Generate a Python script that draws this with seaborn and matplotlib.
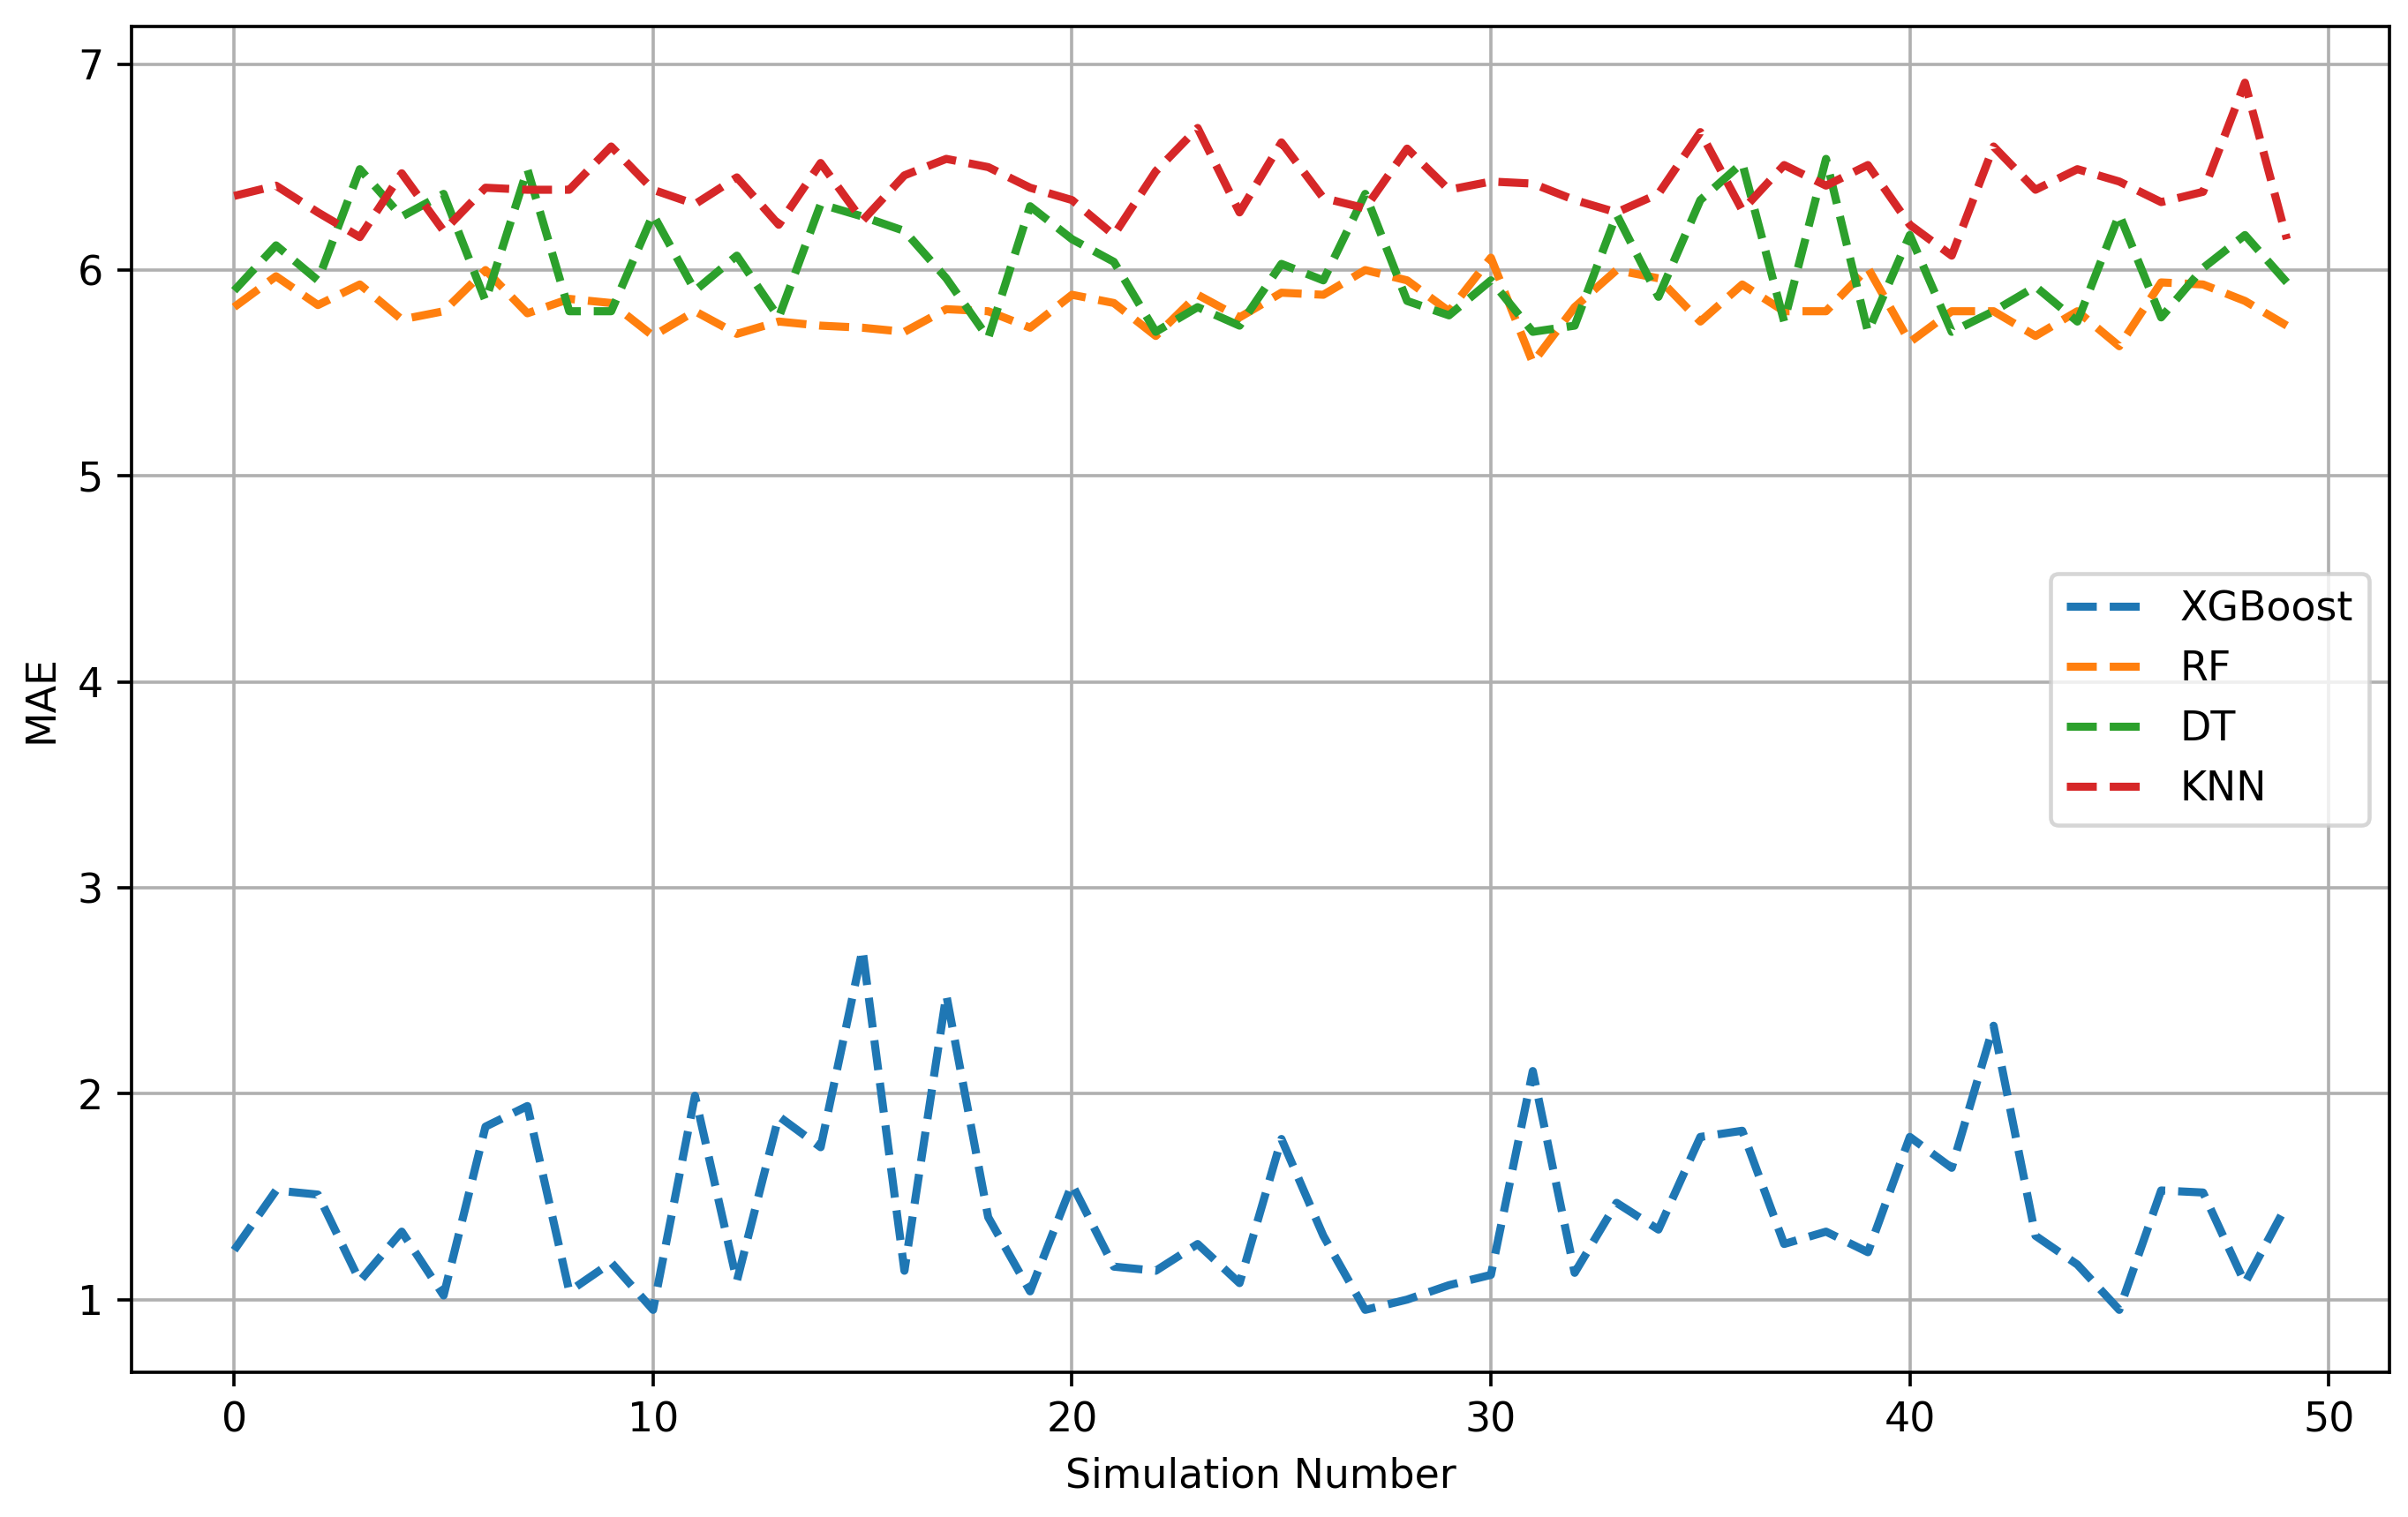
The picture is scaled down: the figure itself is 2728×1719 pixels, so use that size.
import numpy as np
import pandas as pd
import matplotlib
matplotlib.use("Agg")
import matplotlib.pyplot as plt
import seaborn as sns

simulations = list(range(50))

xgboost = [1.24, 1.53, 1.51, 1.09, 1.33, 1.02, 1.84, 1.94, 1.04, 1.18,
           0.95, 1.99, 1.09, 1.89, 1.74, 2.70, 1.14, 2.48, 1.40, 1.04,
           1.56, 1.16, 1.14, 1.27, 1.08, 1.78, 1.31, 0.95, 1.00, 1.07,
           1.12, 2.11, 1.13, 1.47, 1.34, 1.79, 1.82, 1.27, 1.33, 1.23,
           1.79, 1.64, 2.33, 1.31, 1.17, 0.95, 1.53, 1.52, 1.08, 1.46]

rf = [5.82, 5.97, 5.83, 5.93, 5.76, 5.80, 6.00, 5.79, 5.86, 5.84,
      5.68, 5.80, 5.69, 5.75, 5.73, 5.72, 5.70, 5.81, 5.80, 5.72,
      5.88, 5.84, 5.68, 5.88, 5.77, 5.89, 5.88, 6.00, 5.95, 5.80,
      6.06, 5.55, 5.82, 6.00, 5.96, 5.75, 5.93, 5.80, 5.80, 6.01,
      5.65, 5.80, 5.80, 5.68, 5.80, 5.63, 5.94, 5.93, 5.85, 5.73]

dt = [5.90, 6.12, 5.95, 6.49, 6.26, 6.37, 5.85, 6.49, 5.80, 5.80,
      6.27, 5.90, 6.07, 5.77, 6.32, 6.26, 6.19, 5.96, 5.67, 6.31,
      6.15, 6.04, 5.70, 5.82, 5.73, 6.03, 5.95, 6.37, 5.85, 5.78,
      5.95, 5.70, 5.73, 6.27, 5.87, 6.34, 6.52, 5.75, 6.54, 5.70,
      6.17, 5.70, 5.80, 5.92, 5.75, 6.27, 5.77, 6.01, 6.17, 5.94]

knn = [6.36, 6.41, 6.28, 6.16, 6.47, 6.19, 6.40, 6.39, 6.39, 6.60,
       6.39, 6.32, 6.45, 6.22, 6.52, 6.24, 6.46, 6.54, 6.50, 6.40,
       6.34, 6.17, 6.48, 6.69, 6.28, 6.62, 6.35, 6.30, 6.59, 6.39,
       6.43, 6.42, 6.34, 6.28, 6.37, 6.67, 6.29, 6.51, 6.41, 6.51,
       6.22, 6.07, 6.60, 6.39, 6.49, 6.43, 6.33, 6.38, 6.91, 6.15]

models = ["XGBoost", "RF", "DT", "KNN"]
series = [xgboost, rf, dt, knn]
colors = ["#1f77b4", "#ff7f0e", "#2ca02c", "#d62728"]

df = pd.DataFrame({
    "Simulation Number": simulations * len(models),
    "MAE": [v for s in series for v in s],
    "Model": [m for m in models for _ in simulations],
})

sns.set_style("ticks")
plt.rcParams["font.family"] = ["DejaVu Sans"]
plt.rcParams["font.size"] = 10
plt.rcParams["text.color"] = "black"
plt.rcParams["axes.labelcolor"] = "black"
plt.rcParams["xtick.color"] = "black"
plt.rcParams["ytick.color"] = "black"
plt.rcParams["axes.edgecolor"] = "black"

fig = plt.figure(figsize=(2728 / 330, 1719 / 330), dpi=330)
ax = fig.add_axes([149 / 2728, 164 / 1719, 2558 / 2728, 1525 / 1719])

for model, color in zip(models, colors):
    sub = df[df["Model"] == model]
    sns.lineplot(data=sub, x="Simulation Number", y="MAE", ax=ax,
                 color=color, linestyle="--", linewidth=2, label=model)

ax.set_ylim(0.647, 7.183)
ax.set_xticks([0, 10, 20, 30, 40, 50])
ax.set_yticks([1, 2, 3, 4, 5, 6, 7])
ax.grid(True, color="#b0b0b0", linewidth=0.8)
ax.set_axisbelow(True)
for sp in ax.spines.values():
    sp.set_visible(True)
    sp.set_color("black")
    sp.set_linewidth(0.8)
ax.tick_params(axis="both", labelsize=10, length=3.5, width=0.8,
               color="black", labelcolor="black")
ax.set_xlabel("Simulation Number", fontsize=10, color="black")
ax.set_ylabel("MAE", fontsize=10, color="black")
leg = ax.legend(loc="center right", fontsize=10, frameon=True)
for t in leg.get_texts():
    t.set_color("black")

fig.savefig("out.png", dpi=330)
